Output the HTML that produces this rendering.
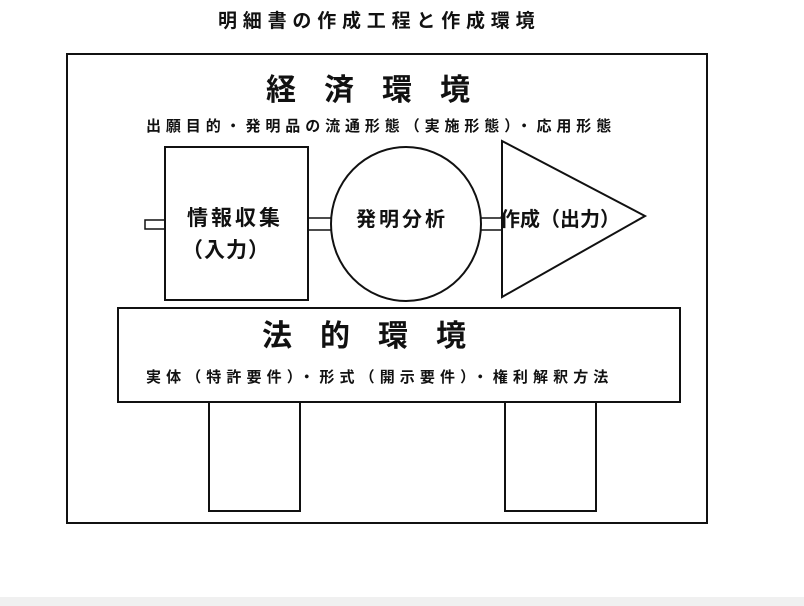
<!DOCTYPE html>
<html><head><meta charset="utf-8"><style>
body{margin:0;background:#fff;width:804px;height:606px;overflow:hidden;position:relative;font-family:"Liberation Sans","Noto Sans CJK JP",sans-serif;font-weight:bold;color:#111}
.t{position:absolute;white-space:nowrap;line-height:1}
</style></head><body>
<div style="position:absolute;left:0;top:597px;width:804px;height:9px;background:#f0f0f0"></div>
<svg width="804" height="606" style="position:absolute;left:0;top:0" fill="none" stroke="#111" stroke-width="2">
<rect x="67" y="54" width="640" height="469"/>
<rect x="145" y="220" width="20" height="9" stroke-width="1.5"/>
<rect x="165" y="147" width="143" height="153"/>
<line x1="308" y1="218" x2="332" y2="218" stroke-width="1.5"/><line x1="308" y1="230" x2="332" y2="230" stroke-width="1.5"/>
<ellipse cx="406" cy="224" rx="75" ry="77"/>
<line x1="481" y1="218" x2="502" y2="218" stroke-width="1.5"/><line x1="481" y1="230" x2="502" y2="230" stroke-width="1.5"/>
<polygon points="502,141 645,216 502,297"/>
<rect x="118" y="308" width="562" height="94" fill="#fff"/>
<rect x="209" y="402" width="91" height="109"/>
<rect x="505" y="402" width="91" height="109"/>
</svg>
<div class="t" style="left:218px;top:12px;font-size:19px;letter-spacing:5.8px">明細書の作成工程と作成環境</div>
<div class="t" style="left:266px;top:76px;font-size:30px;letter-spacing:28px">経済環境</div>
<div class="t" style="left:146px;top:119px;font-size:15px;letter-spacing:4.9px">出願目的・発明品の流通形態（実施形態）・応用形態</div>
<div class="t" style="left:187px;top:208px;font-size:21px;letter-spacing:3px">情報収集</div>
<div class="t" style="left:182px;top:240px;font-size:21px;letter-spacing:1px">（入力）</div>
<div class="t" style="left:356px;top:210px;font-size:20px;letter-spacing:3px">発明分析</div>
<div class="t" style="left:500px;top:210px;font-size:20px;letter-spacing:0px">作成（出力）</div>
<div class="t" style="left:262px;top:322px;font-size:30px;letter-spacing:28px">法的環境</div>
<div class="t" style="left:146px;top:370px;font-size:15px;letter-spacing:5.1px">実体（特許要件）・形式（開示要件）・権利解釈方法</div>
</body></html>
